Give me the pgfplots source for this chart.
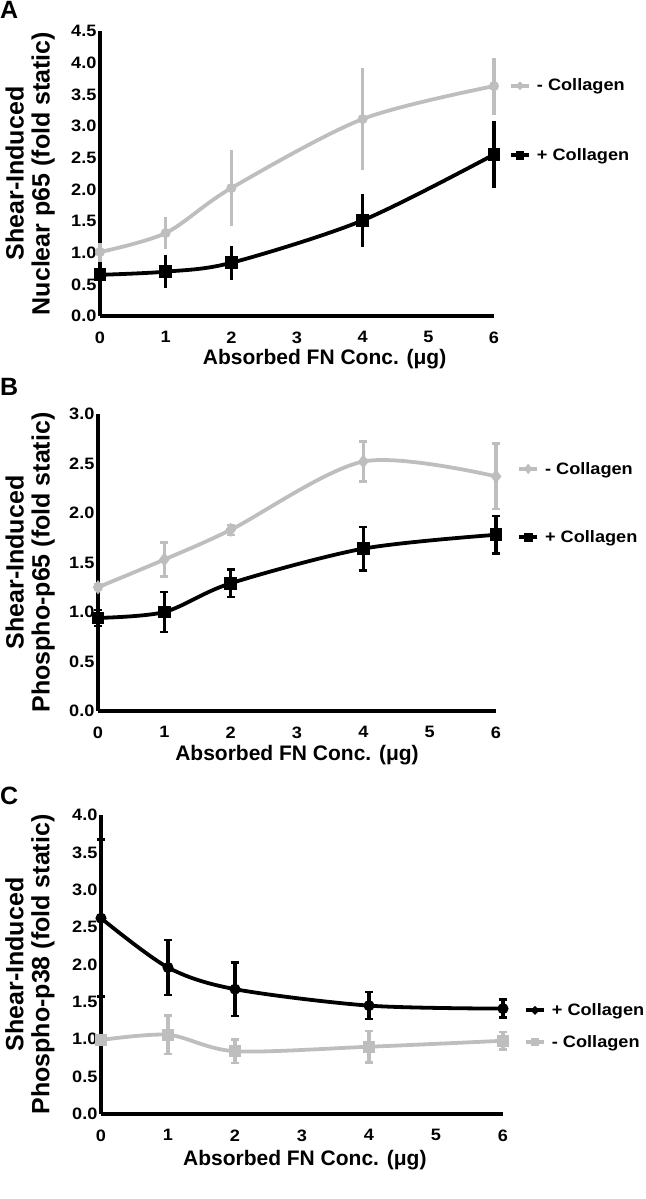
\documentclass[border=0pt]{standalone}
\usepackage{fontspec}
\setmainfont{Liberation Sans}
\newfontfamily\widesans{Liberation Sans}[FakeStretch=1.1]
\usepackage{pgfplots}
\usepackage{pgfplotstable}
\pgfplotsset{compat=1.18}
\definecolor{lg}{RGB}{190,190,190}

\pgfplotstableread{
x y e
0 1.01 0.15
1 1.31 0.25
2 2.02 0.60
4 3.11 0.80
6 3.63 0.45
}\Aminus
\pgfplotstableread{
x y e
0 0.65 0.17
1 0.70 0.26
2 0.84 0.27
4 1.51 0.42
6 2.55 0.53
}\Aplus
\pgfplotstableread{
x y e
0 1.25 0.03
1 1.53 0.17
2 1.83 0.05
4 2.52 0.20
6 2.37 0.33
}\Bminus
\pgfplotstableread{
x y e
0 0.94 0.08
1 1.00 0.20
2 1.29 0.14
4 1.64 0.22
6 1.78 0.19
}\Bplus
\pgfplotstableread{
x y e
0 2.62 1.05
1 1.96 0.37
2 1.67 0.36
4 1.45 0.18
6 1.41 0.12
}\Cplus
\pgfplotstableread{
x y e
0 0.99 0.05
1 1.06 0.26
2 0.84 0.16
4 0.90 0.21
6 0.98 0.12
}\Cminus

\pgfplotsset{
  panel/.style={
    scale only axis, axis lines=left,
    axis line style={-, line width=3.8pt, black},
    xmin=0, xmax=6, xtick={0,...,6}, major tick length=0pt,
    enlargelimits=false, clip=false,
    /pgf/number format/assume math mode=true,
    tick label style={font=\widesans\bfseries\fontsize{16.5}{17}\selectfont},
    y tick label style={/pgf/number format/.cd, fixed, fixed zerofill, precision=1},
    xticklabel style={yshift=-12pt},
    xlabel={Absorbed FN Conc. (μg)},
    xlabel style={font=\bfseries\fontsize{21}{24}\selectfont, anchor=base, inner sep=0pt},
    ylabel style={font=\bfseries\fontsize{25}{26}\selectfont, align=center, anchor=south, inner sep=0pt},
    legend style={draw=none, fill=none, anchor=west, inner sep=0pt,
      font=\widesans\bfseries\fontsize{16.5}{18}\selectfont, column sep=4pt},
    legend cell align=left,
    legend image code/.code={\draw[##1, mark options={scale=0.55}, mark repeat=2, mark phase=2]
      plot coordinates {(0pt,0pt) (9pt,0pt) (18pt,0pt)};},
  },
  greyline/.style={lg, line width=3.8pt, smooth,
    error bars/y dir=both, error bars/y explicit,
    error bars/error bar style={lg, line width=3.5pt}},
  blackline/.style={black, line width=3.8pt, smooth,
    error bars/y dir=both, error bars/y explicit,
    error bars/error bar style={black, line width=3.5pt}},
}

\begin{document}
\begin{tikzpicture}
\path[use as bounding box] (0pt,0pt) rectangle (645pt,-1199pt);

\node[anchor=north west, inner sep=0pt, font=\bfseries\fontsize{25}{25}\selectfont] at (0pt,-1pt) {A};
\node[anchor=north west, inner sep=0pt, font=\bfseries\fontsize{25}{25}\selectfont] at (0pt,-378pt) {B};
\node[anchor=north west, inner sep=0pt, font=\bfseries\fontsize{25}{25}\selectfont] at (0pt,-787pt) {C};

% Panel A
\begin{axis}[panel, at={(100pt,-316pt)}, anchor=south west,
  width=394pt, height=285pt, ymin=0, ymax=4.5, ytick={0,0.5,...,4.5},
  xlabel style={at={(axis description cs:0.57,0)}, yshift=-48pt},
  ylabel={Shear-Induced\\Nuclear p65 (fold static)},
  ylabel style={at={(axis description cs:-0.114,0.5)}},
  legend style={at={(axis description cs:1.038,0.686)}, row sep=52pt}]
\addplot[greyline, mark=*, mark size=3pt, mark options={lg},
  error bars/error mark=none]
  table[x=x, y=y, y error=e] {\Aminus};
\addlegendentry{- Collagen}
\addplot[blackline, mark=square*, mark size=4.5pt, mark options={black},
  error bars/error mark=none]
  table[x=x, y=y, y error=e] {\Aplus};
\addlegendentry{+ Collagen}
\end{axis}

% Panel B
\begin{axis}[panel, at={(98pt,-711pt)}, anchor=south west,
  width=398pt, height=297pt, ymin=0, ymax=3, ytick={0,0.5,...,3},
  xlabel style={at={(axis description cs:0.5,0)}, yshift=-49pt},
  ylabel={Shear-Induced\\Phospho-p65 (fold static)},
  ylabel style={at={(axis description cs:-0.108,0.5)}},
  legend style={at={(axis description cs:1.053,0.70)}, row sep=51pt}]
\addplot[greyline, mark=diamond*, mark size=4pt, mark options={lg},
  error bars/error mark options={rotate=90, mark size=4pt, line width=2.5pt, lg}]
  table[x=x, y=y, y error=e] {\Bminus};
\addlegendentry{- Collagen}
\addplot[blackline, mark=square*, mark size=4.5pt, mark options={black},
  error bars/error mark options={rotate=90, mark size=4pt, line width=2.5pt, black}]
  table[x=x, y=y, y error=e] {\Bplus};
\addlegendentry{+ Collagen}
\end{axis}

% Panel C
\begin{axis}[panel, at={(101pt,-1114pt)}, anchor=south west,
  width=402pt, height=299pt, ymin=0, ymax=4, ytick={0,0.5,...,4},
  xlabel style={at={(axis description cs:0.507,0)}, yshift=-51pt},
  ylabel={Shear-Induced\\Phospho-p38 (fold static)},
  ylabel style={at={(axis description cs:-0.115,0.5)}},
  legend style={at={(axis description cs:1.052,0.294)}, row sep=14pt}]
\addplot[blackline, mark=*, mark size=3.5pt, mark options={black},
  error bars/error mark options={rotate=90, mark size=4pt, line width=2.5pt, black}]
  table[x=x, y=y, y error=e] {\Cplus};
\addlegendentry{+ Collagen}
\addplot[greyline, mark=square*, mark size=4pt, mark options={lg},
  error bars/error mark options={rotate=90, mark size=4pt, line width=2.5pt, lg}]
  table[x=x, y=y, y error=e] {\Cminus};
\addlegendentry{- Collagen}
\end{axis}
\end{tikzpicture}
\end{document}
